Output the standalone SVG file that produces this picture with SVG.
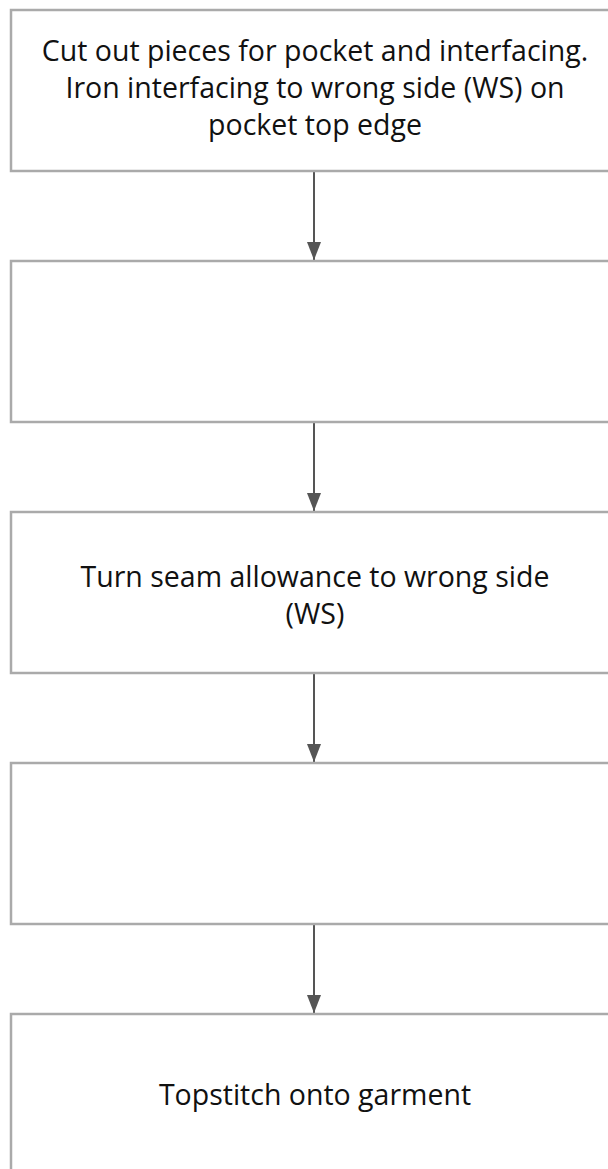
<svg xmlns="http://www.w3.org/2000/svg" width="608" height="1169" viewBox="0 0 608 1169">
<style>
.box{fill:#fff;stroke:#aaa;stroke-width:2.5}
.t{font-family:"Open Sans","Noto Sans",sans-serif;font-size:28.5px;fill:#111;text-anchor:middle}
.c{stroke:#555;stroke-width:2;fill:none}
</style>
<defs>
<marker id="ah" markerWidth="9" markerHeight="7" refX="9" refY="3.5" orient="auto" markerUnits="strokeWidth">
<path d="M0,0 L9,3.5 L0,7 z" fill="#555"/>
</marker>
</defs>
<rect width="608" height="1169" fill="#fff"/>
<g id="connectors">
<line class="c" x1="314" y1="171" x2="314" y2="260" marker-end="url(#ah)"/>
<line class="c" x1="314" y1="422" x2="314" y2="511" marker-end="url(#ah)"/>
<line class="c" x1="314" y1="673" x2="314" y2="762" marker-end="url(#ah)"/>
<line class="c" x1="314" y1="924" x2="314" y2="1013" marker-end="url(#ah)"/>
</g>
<g id="n1">
<rect class="box" x="11" y="10" width="610" height="161"/>
<text class="t" x="315" y="61">Cut out pieces for pocket and interfacing.</text>
<text class="t" x="315" y="98">Iron interfacing to wrong side (WS) on</text>
<text class="t" x="315" y="135">pocket top edge</text>
</g>
<g id="n2">
<rect class="box" x="11" y="261" width="610" height="161"/>
</g>
<g id="n3">
<rect class="box" x="11" y="512" width="610" height="161"/>
<text class="t" x="315" y="587">Turn seam allowance to wrong side</text>
<text class="t" x="315" y="624">(WS)</text>
</g>
<g id="n4">
<rect class="box" x="11" y="763" width="610" height="161"/>
</g>
<g id="n5">
<rect class="box" x="11" y="1014" width="610" height="161"/>
<text class="t" x="315" y="1105">Topstitch onto garment</text>
</g>
</svg>
